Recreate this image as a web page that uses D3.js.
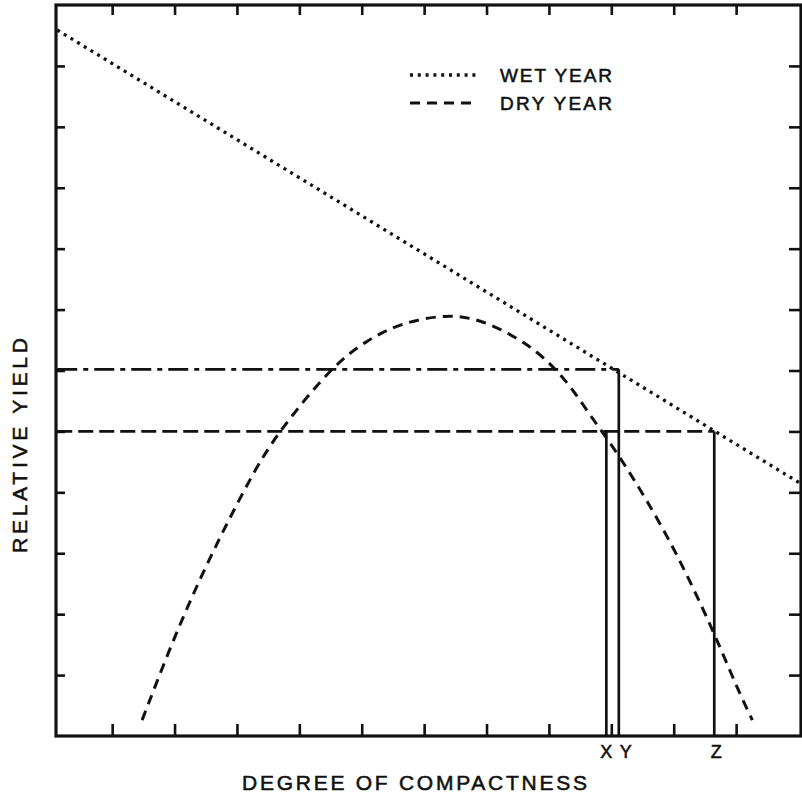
<!DOCTYPE html>
<html>
<head>
<meta charset="utf-8">
<script src="https://cdn.jsdelivr.net/npm/d3@7"></script>
<style>
  html, body { margin: 0; padding: 0; background: #fff; }
  svg { display: block; }
  text { font-family: "Liberation Sans", Arial, sans-serif; fill: #111; stroke: #111; stroke-width: 0.55px; }
</style>
</head>
<body>
<svg id="chart" width="802" height="798"></svg>
<script>
// ---- data ----
const xTicks = [1, 2, 3, 4, 5, 6, 7, 8, 9, 10, 11];
const yTicks = [1, 2, 3, 4, 5, 6, 7, 8, 9, 10, 11];

// Wet year (dotted straight line)
const wetX = [0.12, 12.04];
const wetY = [11.59, 4.14];

// Dry year (dashed parabola-like curve)
const dryX = [1.48, 2.22, 3.21, 3.66, 4.54, 5.09, 5.62, 6.37, 6.95, 7.65, 8.07, 8.39, 8.71, 9.09, 9.57, 10.05, 10.63, 11.01, 11.26];
const dryY = [0.26, 2.23, 4.25, 4.99, 6.09, 6.50, 6.78, 6.93, 6.83, 6.45, 6.07, 5.68, 5.19, 4.66, 3.87, 3.00, 1.74, 0.80, 0.26];

// Reference points X, Y, Z
const refLabels = ["X", "Y", "Z"];
const refX = [8.92, 9.12, 10.65];
const refY = [5.0, 6.02, 5.0];

const legendLabels = ["WET YEAR", "DRY YEAR"];
const xTitle = "DEGREE OF COMPACTNESS";
const yTitle = "RELATIVE YIELD";

// ---- drawing ----
const svg = d3.select("#chart");
const ink = "#111";

const x = d3.scaleLinear().domain([0.1, 12.04]).range([56, 801]);
const y = d3.scaleLinear().domain([0, 12]).range([736, 5]);

const pLeft = x.range()[0], pRight = x.range()[1];
const pTop = y.range()[1], pBottom = y.range()[0];

// axes with inward ticks on all four sides
function styleAxis(g) {
  g.select(".domain").remove();
  g.selectAll(".tick line").attr("stroke", ink).attr("stroke-width", 2.6);
  g.selectAll(".tick text").remove();
}
svg.append("g").attr("transform", `translate(0,${pBottom})`)
  .call(d3.axisBottom(x).tickValues(xTicks).tickSizeInner(-12).tickSizeOuter(0)).call(styleAxis);
svg.append("g").attr("transform", `translate(0,${pTop})`)
  .call(d3.axisTop(x).tickValues(xTicks).tickSizeInner(-10).tickSizeOuter(0)).call(styleAxis);
svg.append("g").attr("transform", `translate(${pLeft},0)`)
  .call(d3.axisLeft(y).tickValues(yTicks).tickSizeInner(-9).tickSizeOuter(0)).call(styleAxis);
svg.append("g").attr("transform", `translate(${pRight},0)`)
  .call(d3.axisRight(y).tickValues(yTicks).tickSizeInner(-12).tickSizeOuter(0)).call(styleAxis);

// frame
svg.append("rect")
  .attr("x", pLeft).attr("y", pTop)
  .attr("width", pRight - pLeft).attr("height", pBottom - pTop)
  .attr("fill", "none").attr("stroke", ink).attr("stroke-width", 3.2);

const straight = d3.line().x(d => x(d[0])).y(d => y(d[1]));
const smooth = d3.line().x(d => x(d[0])).y(d => y(d[1])).curve(d3.curveBasis);

// wet year
svg.append("path")
  .datum(wetX.map((v, i) => [v, wetY[i]]))
  .attr("d", straight)
  .attr("fill", "none").attr("stroke", ink)
  .attr("stroke-width", 3.3).attr("stroke-dasharray", "3,4.8");

// dry year
svg.append("path")
  .datum(dryX.map((v, i) => [v, dryY[i]]))
  .attr("d", smooth)
  .attr("fill", "none").attr("stroke", ink)
  .attr("stroke-width", 3).attr("stroke-dasharray", "10,7");

// horizontal reference lines (Y: dash-dot, Z: long dash)
svg.append("path")
  .datum([[x.domain()[0] + 0.02, refY[1]], [refX[1], refY[1]]])
  .attr("d", straight)
  .attr("fill", "none").attr("stroke", ink)
  .attr("stroke-width", 2.8).attr("stroke-dasharray", "20,6,5,6");
svg.append("path")
  .datum([[x.domain()[0] + 0.02, refY[2]], [refX[2], refY[2]]])
  .attr("d", straight)
  .attr("fill", "none").attr("stroke", ink)
  .attr("stroke-width", 2.8).attr("stroke-dasharray", "15,6");

// vertical reference lines
refX.forEach((v, i) => {
  svg.append("path")
    .datum([[v, refY[i]], [v, 0]])
    .attr("d", straight)
    .attr("fill", "none").attr("stroke", ink).attr("stroke-width", 2.7);
});

// X / Y / Z labels
const labelShift = [0, 7, 2];
refLabels.forEach((t, i) => {
  svg.append("text")
    .attr("x", x(refX[i]) + labelShift[i]).attr("y", 758)
    .attr("text-anchor", "middle")
    .attr("font-size", 18)
    .text(t);
});

// legend
const legY = [75, 103];
const legDash = ["3,4.8", "10,7"];
const legEnd = [478, 472];
legendLabels.forEach((t, i) => {
  svg.append("line")
    .attr("x1", 410).attr("x2", legEnd[i])
    .attr("y1", legY[i]).attr("y2", legY[i])
    .attr("stroke", ink).attr("stroke-width", i === 0 ? 3.3 : 3)
    .attr("stroke-dasharray", legDash[i]);
  svg.append("text")
    .attr("x", 500).attr("y", legY[i] + 7)
    .attr("font-size", 19)
    .attr("textLength", 112).attr("lengthAdjust", "spacing")
    .text(t);
});

// axis titles
svg.append("text")
  .attr("x", 242).attr("y", 790)
  .attr("font-size", 21)
  .attr("textLength", 345).attr("lengthAdjust", "spacing")
  .text(xTitle);

svg.append("text")
  .attr("transform", "translate(27,553) rotate(-90)")
  .attr("x", 0).attr("y", 0)
  .attr("font-size", 21)
  .attr("textLength", 215).attr("lengthAdjust", "spacing")
  .text(yTitle);
</script>
</body>
</html>
